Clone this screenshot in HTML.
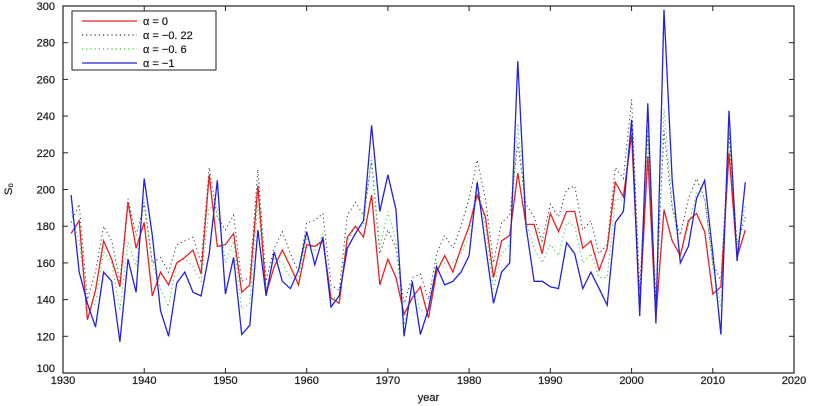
<!DOCTYPE html>
<html><head><meta charset="utf-8"><style>
html,body{margin:0;padding:0;background:#fff;width:833px;height:406px;overflow:hidden}
text{font-family:"Liberation Sans",sans-serif;font-size:11px;fill:#222;stroke:#222;stroke-width:0.25}
</style></head><body>
<svg id="chart" width="833" height="406" xmlns="http://www.w3.org/2000/svg"></svg>
<script>
const years = [];
for (let y = 1931; y <= 2014; y++) years.push(y);
const seriesA0 = [176,183,129,145,172,162,147,193,168,182,142,155,148,160,163,167,154,208,169,170,176,144,148,202,143,158,167,158,148,170,169,172,141,138,174,180,174,197,148,162,152,132,141,147,130,155,164,155,168,180,197,185,152,172,175,209,181,181,165,187,177,188,188,168,172,156,168,204,196,230,135,218,130,189,172,164,183,187,177,143,147,220,163,178];
const seriesA022 = [182,192,140,155,180,172,150,195,175,192,160,163,155,170,172,174,160,212,185,178,186,150,152,211,150,168,177,165,155,182,183,187,148,145,186,193,186,215,165,178,168,138,152,154,140,165,175,168,180,195,216,195,160,182,186,225,192,185,172,192,185,200,202,178,183,165,170,212,206,249,145,230,140,232,190,175,195,206,195,160,150,230,170,185];
const seriesA06 = [188,172,134,138,166,160,134,172,158,195,160,146,136,160,162,158,150,190,190,160,172,135,138,192,145,163,160,152,152,174,166,176,140,142,172,180,180,218,168,188,172,126,148,134,134,160,160,160,165,175,205,180,146,165,170,236,182,168,160,170,164,182,180,160,165,152,152,195,194,236,134,234,128,244,192,165,180,198,195,158,136,232,166,192];
const seriesA1 = [197,155,138,125,155,150,117,162,144,206,175,134,120,149,155,144,142,165,205,143,163,121,126,178,142,166,150,146,156,177,159,174,136,142,168,176,183,235,188,208,189,120,150,121,135,158,148,150,155,164,204,170,138,155,160,270,180,150,150,147,146,171,165,146,155,146,137,182,188,238,131,247,127,298,205,160,169,195,205,165,121,243,161,204];
const xTicks = [1930,1940,1950,1960,1970,1980,1990,2000,2010,2020];
const yTicks = [100,120,140,160,180,200,220,240,260,280,300];

const NS = "http://www.w3.org/2000/svg";
const svg = document.getElementById('chart');
const L = 63, R = 794, T = 6, B = 373;
const xs = v => L + (v - 1930) / 90 * (R - L);
const ys = v => B - (v - 100) / 200 * (B - T);
function mk(tag, attrs) { const e = document.createElementNS(NS, tag); for (const k in attrs) e.setAttribute(k, attrs[k]); svg.appendChild(e); return e; }

const frame = mk('rect', {x:L, y:T, width:R-L, height:B-T, fill:'none', stroke:'#222', 'stroke-width':1.2});



xTicks.forEach(t => {
  const x = xs(t);
  mk('line', {x1:x, x2:x, y1:B, y2:B-5, stroke:'#222'});
  mk('line', {x1:x, x2:x, y1:T, y2:T+5, stroke:'#222'});
  const tx = mk('text', {x:x, y:B+11, 'text-anchor':'middle'});
  tx.textContent = t;
  
  
});
yTicks.forEach(t => {
  const y = ys(t);
  mk('line', {x1:L, x2:L+5, y1:y, y2:y, stroke:'#222'});
  mk('line', {x1:R, x2:R-5, y1:y, y2:y, stroke:'#222'});
  const tx = mk('text', {x:L-8, y:y+(t===100?-1:4), 'text-anchor':'end'});
  tx.textContent = t;
  
  
});
const xl = mk('text', {x:(L+R)/2, y:401, 'text-anchor':'middle'});
xl.textContent = 'year';


const yl = mk('text', {x:12, y:189, 'text-anchor':'middle', transform:'rotate(-90 12 189)'});
yl.textContent = 'S₀';



function line(vals, color, dash, w, name) {
  const d = vals.map((v, i) => (i ? 'L' : 'M') + xs(years[i]).toFixed(1) + ',' + ys(v).toFixed(1)).join('');
  const p = mk('path', {d:d, fill:'none', stroke:color, 'stroke-width':w, 'stroke-dasharray':dash});
  
  
}
line(seriesA022, '#333', '1.2,3', 1, 'series-alpha-minus-0-22');
line(seriesA06, '#3c3', '1.2,3', 1, 'series-alpha-minus-0-6');
line(seriesA0, '#e52222', 'none', 1.3, 'series-alpha-0');
line(seriesA1, '#2222dd', 'none', 1.3, 'series-alpha-minus-1');

const lg = mk('rect', {x:72, y:11, width:144, height:59, fill:'#fff', stroke:'#222', 'stroke-width':1});


const entries = [['α  =  0','#e52222','none'],['α  =  −0. 22','#333','1.2,3'],['α  =  −0. 6','#3c3','1.2,3'],['α  =  −1','#2222dd','none']];
entries.forEach((e, i) => {
  const y = 21 + i * 14;
  const l = mk('line', {x1:82, x2:137, y1:y, y2:y, stroke:e[1], 'stroke-width':1.3, 'stroke-dasharray':e[2]});
  
  
  const t = mk('text', {x:143, y:y+4});
  t.textContent = e[0];
  
  
});
</script>
</body></html>
